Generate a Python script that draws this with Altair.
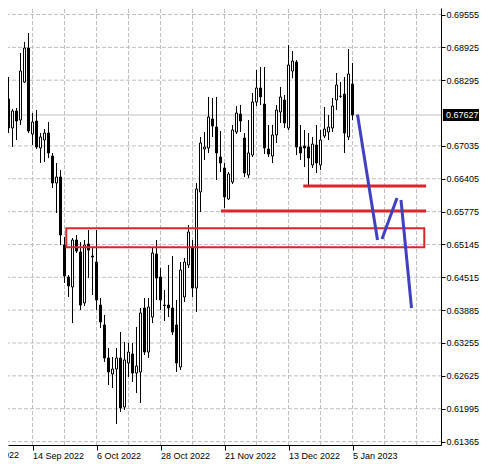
import altair as alt
import pandas as pd

# ---- candle data (bar index, daily OHLC) ----
opens = [0.67858, 0.67800, 0.67934, 0.67378, 0.67704, 0.67532, 0.68260, 0.68912, 0.67263, 0.67512,
         0.66995, 0.67148, 0.67282, 0.66841, 0.66323, 0.66438, 0.65134, 0.64520, 0.64329, 0.65230,
         0.65000, 0.64022, 0.65153, 0.64923, 0.64808, 0.63983, 0.63600, 0.62967, 0.62660, 0.62756,
         0.62967, 0.62027, 0.62871, 0.63044, 0.62679, 0.62698, 0.63926, 0.63082, 0.63753, 0.64962,
         0.64520, 0.63983, 0.63983, 0.63926, 0.63600, 0.62794, 0.64137, 0.64751, 0.65077, 0.64309,
         0.66151, 0.66975, 0.66995, 0.67551, 0.67397, 0.66822, 0.66611, 0.66016, 0.66342, 0.67301,
         0.67647, 0.67186, 0.66477, 0.66860, 0.67877, 0.68145, 0.67838, 0.66975, 0.66841, 0.67244,
         0.67685, 0.67915, 0.67378, 0.68471, 0.68644, 0.67014, 0.67033, 0.67014, 0.66669, 0.67052,
         0.66669, 0.67225, 0.67301, 0.67378, 0.67915, 0.67985, 0.68030, 0.67206, 0.68222]
highs = [0.68586, 0.68049, 0.68356, 0.67743, 0.67762, 0.68817, 0.69028, 0.69200, 0.67666, 0.67723,
         0.67282, 0.67359, 0.67493, 0.66899, 0.66707, 0.66573, 0.65288, 0.64559, 0.65268, 0.65326,
         0.65192, 0.65230, 0.65422, 0.65096, 0.65422, 0.64118, 0.63792, 0.63159, 0.62986, 0.63159,
         0.63466, 0.63274, 0.63255, 0.63255, 0.63562, 0.63926, 0.64118, 0.64118, 0.65077, 0.65230,
         0.64693, 0.64271, 0.64751, 0.64923, 0.64079, 0.64808, 0.64885, 0.65518, 0.65230, 0.66323,
         0.67206, 0.67301, 0.67973, 0.67954, 0.67973, 0.67321, 0.66707, 0.66534, 0.67436, 0.67800,
         0.67819, 0.67282, 0.67532, 0.68049, 0.68491, 0.68548, 0.68548, 0.67436, 0.67436, 0.67819,
         0.68164, 0.68011, 0.68970, 0.68855, 0.68682, 0.67436, 0.67340, 0.67282, 0.67206, 0.67436,
         0.67340, 0.67781, 0.67627, 0.67954, 0.68433, 0.68260, 0.68356, 0.68893, 0.68625]
lows = [0.67800, 0.67762, 0.67282, 0.67014, 0.67148, 0.67436, 0.68241, 0.67282, 0.67052, 0.66975,
        0.66707, 0.66726, 0.66803, 0.66227, 0.65748, 0.65134, 0.64405, 0.64137, 0.63638, 0.64981,
        0.63888, 0.63964, 0.64501, 0.64175, 0.63888, 0.63542, 0.62890, 0.62449, 0.62392, 0.61701,
        0.61931, 0.61970, 0.62603, 0.62507, 0.62296, 0.62104, 0.63025, 0.62967, 0.63638, 0.64079,
        0.63888, 0.63677, 0.63753, 0.63408, 0.62698, 0.62737, 0.64041, 0.64693, 0.64137, 0.63849,
        0.65767, 0.66764, 0.66899, 0.67206, 0.66381, 0.66534, 0.65844, 0.65997, 0.66304, 0.67263,
        0.67301, 0.66438, 0.66419, 0.66822, 0.67800, 0.67819, 0.66879, 0.66822, 0.66707, 0.67090,
        0.67474, 0.67378, 0.67340, 0.68330, 0.66860, 0.66764, 0.66630, 0.66266, 0.66611, 0.66515,
        0.66573, 0.67186, 0.67148, 0.67301, 0.67723, 0.67954, 0.66899, 0.67148, 0.67532]
closes = [0.68126, 0.67973, 0.67378, 0.67704, 0.67512, 0.68471, 0.68912, 0.67321, 0.67493, 0.67014,
          0.67206, 0.67282, 0.66899, 0.66323, 0.66438, 0.65326, 0.64540, 0.64348, 0.65230, 0.65019,
          0.63983, 0.65134, 0.65038, 0.64904, 0.64079, 0.63657, 0.62967, 0.62698, 0.62756, 0.62967,
          0.62008, 0.62929, 0.63082, 0.62679, 0.62814, 0.63830, 0.63082, 0.63945, 0.64981, 0.64501,
          0.64079, 0.63974, 0.63926, 0.63466, 0.62871, 0.64655, 0.64808, 0.65384, 0.64309, 0.66208,
          0.67090, 0.67014, 0.67589, 0.67416, 0.66899, 0.66707, 0.66055, 0.66496, 0.67340, 0.67666,
          0.67512, 0.66515, 0.66899, 0.67877, 0.68145, 0.67973, 0.66995, 0.66879, 0.67244, 0.67723,
          0.67973, 0.67474, 0.68586, 0.68663, 0.67014, 0.66899, 0.66995, 0.66803, 0.67071, 0.66707,
          0.67148, 0.67359, 0.67397, 0.67800, 0.68203, 0.67990, 0.67282, 0.68414, 0.67627]

# ---- axis labels ----
date_ticks = [8, 24, 40, 56, 72, 88]
date_labels = ["14 Sep 2022", "6 Oct 2022", "28 Oct 2022", "21 Nov 2022", "13 Dec 2022", "5 Jan 2023"]
cut_date_tick = [-8]
cut_date_label = ["23 Aug 2022"]
price_ticks = [0.69555, 0.68925, 0.68295, 0.67035, 0.66405, 0.65775, 0.65145,
               0.64515, 0.63885, 0.63255, 0.62625, 0.61995, 0.61365]
vgrid_bars = [0, 8, 16, 24, 32, 40, 48, 56, 64, 72, 80, 88, 96, 104]
last_price = [0.67627]
last_label = ["0.67627"]

# ---- drawn objects ----
red_line_price = [0.66266, 0.65786]
red_line_from = [75.7, 55.1]
red_line_to = [106.4, 106.4]
box_x = [16.45, 105.95]
box_p = [0.65454, 0.65092]
blue_x1 = [89.25, 95.375, 100.125]
blue_p1 = [0.67637, 0.65249, 0.65997]
blue_x2 = [94.25, 99.125, 102.75]
blue_p2 = [0.65230, 0.66036, 0.63926]
tag_x = [110.6, 120.4]
tag_p = [0.67742, 0.67512]

X_DOMAIN = [1.875, 110.125]
Y_DOMAIN = [0.612984, 0.696797]
# the chart window reaches a little past the plot frame, to the top-left corner
FRAME_LEFT = -0.125
FRAME_TOP = 0.69833
FONT = "Liberation Sans"
FS = 9
GRID = "#c0c0c0"
RED = "#d9262b"
BLUE = "#4040c0"

xs = alt.Scale(domain=X_DOMAIN, nice=False, zero=False, padding=0)
ys = alt.Scale(domain=Y_DOMAIN, nice=False, zero=False, padding=0)

candles = pd.DataFrame({"i": list(range(len(opens))), "open": opens, "high": highs,
                        "low": lows, "close": closes})
candles["fillc"] = ["white" if c >= o else "black" for o, c in zip(opens, closes)]

label_expr = " : ".join(
    f"datum.value == {t} ? '{l}'" for t, l in zip(date_ticks, date_labels)) + " : ''"

x_axis = alt.Axis(values=date_ticks, labelExpr=label_expr, title="", grid=False,
                  labelAlign="left", labelBaseline="top", labelPadding=1, tickSize=5,
                  labelFont=FONT, labelFontSize=FS, labelColor="black",
                  domainColor="black", tickColor="black", labelFlush=False,
                  labelOverlap=False, labelBound=False)
y_axis = alt.Axis(values=price_ticks, format=".5f", title="", grid=False, orient="right",
                  tickSize=4, labelPadding=1, labelFont=FONT, labelFontSize=FS,
                  labelColor="black", domainColor="black", tickColor="black",
                  labelBaseline="middle", labelAlign="left", labelFlush=False,
                  labelOverlap=False, labelBound=False)


def X(field):
    return alt.X(field, type="quantitative", scale=xs, axis=x_axis)


def Y(field):
    return alt.Y(field, type="quantitative", scale=ys, axis=y_axis)


vgrid = alt.Chart(pd.DataFrame({"i": vgrid_bars, "b": Y_DOMAIN[0], "t": FRAME_TOP})).mark_rule(
    color=GRID, strokeDash=[4, 2], strokeWidth=1
).encode(x=X("i"), y=Y("b"), y2="t")

hgrid = alt.Chart(pd.DataFrame({"p": price_ticks, "a": FRAME_LEFT, "b": X_DOMAIN[1]})).mark_rule(
    color=GRID, strokeDash=[4, 2], strokeWidth=1
).encode(y=Y("p"), x=X("a"), x2="b")

price_line = alt.Chart(pd.DataFrame({"p": last_price, "a": FRAME_LEFT, "b": X_DOMAIN[1]})).mark_rule(
    color=GRID, strokeWidth=1
).encode(y=Y("p"), x=X("a"), x2="b")

frame_right = alt.Chart(pd.DataFrame({"x": [X_DOMAIN[1]], "b": [Y_DOMAIN[1]], "t": [FRAME_TOP]})
                        ).mark_rule(color="black", strokeWidth=1).encode(
    x=X("x"), y=Y("b"), y2="t")

frame_bottom = alt.Chart(pd.DataFrame({"a": [FRAME_LEFT], "b": [X_DOMAIN[0]], "p": [Y_DOMAIN[0]]})
                         ).mark_rule(color="black", strokeWidth=1).encode(
    x=X("a"), x2="b", y=Y("p"))

wicks = alt.Chart(candles).mark_rule(color="black", strokeWidth=1).encode(
    x=X("i"), y=Y("low"), y2="high",
)

bodies = alt.Chart(candles).mark_bar(size=2, stroke="black", strokeWidth=1).encode(
    x=X("i"), y=Y("open"), y2="close",
    fill=alt.Fill("fillc:N", scale=None),
)

red_lines = alt.Chart(pd.DataFrame({"p": red_line_price, "a": red_line_from, "b": red_line_to})
                      ).mark_rule(color=RED, strokeWidth=3, clip=True).encode(
    x=X("a"), x2="b", y=Y("p"),
)

red_box = alt.Chart(pd.DataFrame({"a": [box_x[0]], "b": [box_x[1]],
                                  "p1": [box_p[0]], "p2": [box_p[1]]})
                    ).mark_rect(filled=False, stroke=RED, strokeWidth=2, clip=True).encode(
    x=X("a"), x2="b", y=Y("p1"), y2="p2",
)

blue = alt.Chart(pd.DataFrame({"a": blue_x1, "b": blue_x2, "p1": blue_p1, "p2": blue_p2})
                 ).mark_rule(color=BLUE, strokeWidth=3, clip=True).encode(
    x=X("a"), x2="b", y=Y("p1"), y2="p2",
)

tag = alt.Chart(pd.DataFrame({"a": [tag_x[0]], "b": [tag_x[1]],
                              "p1": [tag_p[0]], "p2": [tag_p[1]]})
                ).mark_rect(color="black").encode(
    x=X("a"), x2="b", y=Y("p1"), y2="p2",
)

tag_text = alt.Chart(pd.DataFrame({"x": [tag_x[0]], "p": last_price, "t": last_label})
                     ).mark_text(color="white", font=FONT, fontSize=FS, align="left",
                                 baseline="middle", dx=3).encode(
    x=X("x"), y=Y("p"), text="t:N",
)

cut_label = alt.Chart(pd.DataFrame({"i": cut_date_tick, "t": cut_date_label})).mark_text(
    color="black", font=FONT, fontSize=FS, align="left", baseline="top", dy=6
).encode(
    x=X("i"), y=alt.value(437), text="t:N",
)

chart = alt.layer(
    vgrid, hgrid, price_line, frame_right, frame_bottom, wicks, bodies,
    red_lines, red_box, blue, tag, tag_text, cut_label
).properties(
    width=433, height=437,
    autosize=alt.AutoSizeParams(type="none"),
    padding={"left": 0, "top": 0, "right": 38, "bottom": 17},
    background="white",
).configure_view(strokeWidth=0)

chart.save("out.html", embed_options={"renderer": "svg", "actions": False})
